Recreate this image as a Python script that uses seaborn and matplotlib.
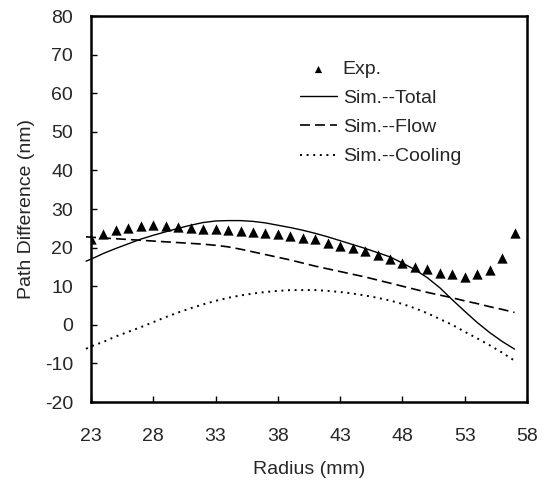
import numpy as np
import pandas as pd
import seaborn as sns
from matplotlib import pyplot as plt

# ---------------------------- data ---------------------------- #
exp_radius = list(range(23, 58))
exp_diff = [22.2, 23.5, 24.5, 25.2, 25.6, 25.8, 25.7, 25.3, 25.0, 24.9,
            24.7, 24.5, 24.2, 24.0, 23.8, 23.5, 23.0, 22.5, 22.2, 21.1,
            20.4, 19.8, 19.1, 18.1, 17.0, 16.1, 15.1, 14.5, 13.3, 13.2,
            12.5, 13.2, 14.2, 17.2, 23.7]

sim_radius = [22.6] + list(range(23, 58))
sim_total = [16.5, 17.0, 18.5, 19.8, 21.0, 22.2, 23.2, 24.1, 25.0, 25.8,
             26.5, 26.9, 27.0, 27.0, 26.8, 26.4, 25.8, 25.2, 24.5, 23.7,
             22.8, 21.8, 20.8, 19.8, 18.7, 17.6, 16.0, 14.3, 12.2, 9.6,
             6.5, 3.5, 0.6, -2.0, -4.3, -6.3]
sim_flow = [22.8, 22.7, 22.5, 22.3, 22.1, 21.9, 21.7, 21.5, 21.3, 21.1,
            20.9, 20.6, 20.2, 19.6, 18.9, 18.2, 17.5, 16.8, 16.0, 15.2,
            14.5, 13.8, 13.1, 12.4, 11.6, 10.8, 10.0, 9.2, 8.4, 7.7,
            7.0, 6.2, 5.5, 4.7, 4.0, 3.2]
sim_cooling = [-6.2, -5.6, -4.4, -3.0, -1.8, -0.6, 0.7, 2.0, 3.2, 4.3,
               5.3, 6.2, 7.0, 7.6, 8.1, 8.5, 8.8, 9.0, 9.0, 9.0,
               8.8, 8.5, 8.1, 7.6, 7.0, 6.3, 5.4, 4.3, 3.0, 1.5,
               0.0, -1.8, -3.5, -5.3, -7.2, -9.3]

x_ticks = [23, 28, 33, 38, 43, 48, 53, 58]
y_ticks = [-20, -10, 0, 10, 20, 30, 40, 50, 60, 70, 80]

df_exp = pd.DataFrame({'Radius': exp_radius, 'Diff': exp_diff})
df_sim = pd.DataFrame({'Radius': sim_radius, 'Total': sim_total,
                       'Flow': sim_flow, 'Cooling': sim_cooling})

# ---------------------------------- plotting ------------------------------------ #
sns.set_style("ticks")
plt.rcParams['font.family'] = ['Liberation Sans', 'DejaVu Sans']
plt.rcParams['axes.unicode_minus'] = False

fig = plt.figure(figsize=(5.44, 4.87), dpi=100)
ax = fig.add_axes([0.1673, 0.1745, 0.8015, 0.7926])

sns.scatterplot(data=df_exp, x='Radius', y='Diff', ax=ax, marker='^',
                color='black', s=55, linewidth=0, label='Exp.', zorder=4)
sns.lineplot(data=df_sim, x='Radius', y='Total', ax=ax, color='black',
             linewidth=1.0, label='Sim.--Total', clip_on=False)
sns.lineplot(data=df_sim, x='Radius', y='Flow', ax=ax, color='black',
             linewidth=1.2, label='Sim.--Flow', clip_on=False)
ax.lines[-1].set_dashes([6, 3])
sns.lineplot(data=df_sim, x='Radius', y='Cooling', ax=ax, color='black',
             linewidth=1.4, label='Sim.--Cooling', clip_on=False)
ax.lines[-1].set_dashes([1, 2.4])

ax.set_xlim(23, 58)
ax.set_ylim(-20, 80)
ax.set_xticks(x_ticks)
ax.set_yticks(y_ticks)
ax.set_xlabel('Radius (mm)', fontsize=14, labelpad=11)
ax.set_ylabel('Path Difference (nm)', fontsize=14, labelpad=7)
ax.tick_params(axis='both', direction='in', length=4, width=1,
               labelsize=14, color='black')
ax.tick_params(axis='x', pad=19)
ax.tick_params(axis='y', pad=13)
for sp in ax.spines.values():
    sp.set_visible(True)
    sp.set_linewidth(1.8)
    sp.set_color('black')

ax.legend(loc='upper left', bbox_to_anchor=(0.479, 0.886), frameon=False,
          fontsize=14, handlelength=1.9, handletextpad=0.31,
          labelspacing=0.6, markerscale=0.7, borderpad=0, borderaxespad=0)

fig.savefig('out.png', dpi=100)
